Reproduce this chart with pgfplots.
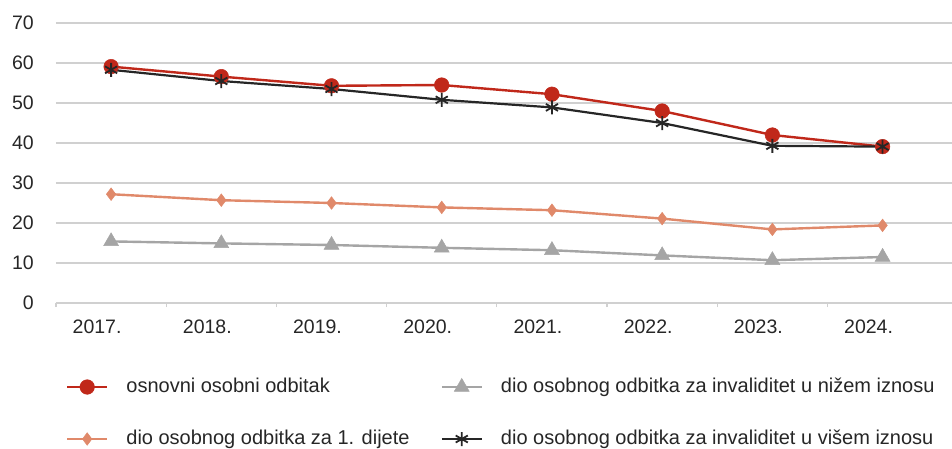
\documentclass[border=0pt]{standalone}
\usepackage{pgfplots}
\pgfplotsset{compat=1.18}
\usepackage{fontspec}
\setmainfont{Liberation Sans}
\definecolor{cred}{RGB}{192,40,26}
\definecolor{corange}{RGB}{224,137,106}
\definecolor{cgray}{RGB}{165,165,165}
\definecolor{cblack}{RGB}{38,38,38}
\definecolor{cgrid}{RGB}{208,208,208}
\definecolor{ctext}{RGB}{38,38,38}
\begin{document}
\begin{tikzpicture}
\useasboundingbox (-56pt,-145pt) rectangle (896pt,303pt);
\begin{axis}[
  scale only axis, width=896pt, height=280pt,
  xmin=-0.5, xmax=7.63, ymin=0, ymax=70,
  ytick={0,10,...,70},
  xtick={0,...,7},
  xticklabels={2017.,2018.,2019.,2020.,2021.,2022.,2023.,2024.},
  axis x line*=bottom, axis y line*=left,
  y axis line style={draw=none},
  x axis line style={draw=cgrid, line width=1.3pt},
  ymajorgrids, grid style={cgrid, line width=1.2pt},
  major tick length=0pt,
  extra x ticks={-0.5,0.5,...,6.5},
  extra x tick labels={},
  extra x tick style={grid=none, tick align=outside, major tick length=4pt, tick style={draw=cgrid, line width=1.2pt}},
  tick label style={font=\fontsize{19.5}{20}\selectfont, text=ctext},
  /pgf/number format/assume math mode=true,
  yticklabel style={inner sep=0pt, xshift=-22pt},
  xticklabel style={inner sep=0pt, anchor=north, yshift=-17pt, xshift=-14pt},
  legend columns=2,
  legend cell align=left,
  legend style={draw=none, fill=none, at={(0.01116,-0.2643)}, anchor=north west,
    inner sep=0pt, outer sep=0pt, font=\fontsize{20}{24}\selectfont, text=ctext,
    /tikz/every odd column/.append style={column sep=18pt},
    /tikz/every even column/.append style={column sep=31pt},
    row sep=32pt, nodes={inner sep=0pt, text height=15pt, text depth=5pt}},
  legend image code/.code={\draw[mark repeat=2,mark phase=2,#1] plot coordinates {(0pt,0pt) (20pt,0pt) (40pt,0pt)};},
]
\addplot[cred, line width=2.4pt, mark=*, mark size=7.3pt, mark options={solid, fill=cred, draw=cred, line width=0.5pt}]
  coordinates {(0,59.1)(1,56.6)(2,54.3)(3,54.5)(4,52.2)(5,48.0)(6,42.0)(7,39.1)};
\addlegendentry{osnovni osobni odbitak}
\addplot[cgray, line width=2.4pt, mark=triangle*, mark size=8.6pt, mark options={solid, fill=cgray, draw=cgray, line width=0.5pt}]
  coordinates {(0,15.4)(1,14.9)(2,14.5)(3,13.8)(4,13.2)(5,11.9)(6,10.7)(7,11.5)};
\addlegendentry{dio osobnog odbitka za invaliditet u nižem iznosu}
\addplot[corange, line width=2.4pt, mark=diamond*, mark size=6.3pt, mark options={solid, fill=corange, draw=corange, line width=0.5pt}]
  coordinates {(0,27.2)(1,25.7)(2,25.0)(3,23.9)(4,23.2)(5,21.1)(6,18.4)(7,19.4)};
\addlegendentry{dio osobnog odbitka za 1. dijete}
\addplot[cblack, line width=2.2pt, mark=asterisk, mark size=7pt, mark options={solid, draw=cblack, line width=1.8pt}]
  coordinates {(0,58.3)(1,55.5)(2,53.5)(3,50.8)(4,48.9)(5,45.0)(6,39.3)(7,39.1)};
\addlegendentry{dio osobnog odbitka za invaliditet u višem iznosu}
\end{axis}
\end{tikzpicture}
\end{document}
